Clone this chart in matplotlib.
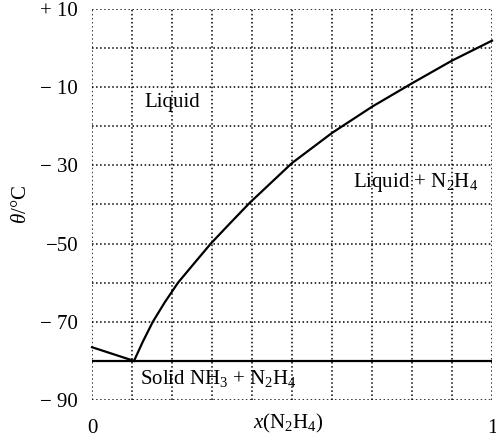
import matplotlib.pyplot as plt
from matplotlib.ticker import MultipleLocator

plt.rcParams['font.family'] = 'Liberation Serif'
plt.rcParams['mathtext.fontset'] = 'custom'
plt.rcParams['mathtext.rm'] = 'Liberation Serif'
plt.rcParams['mathtext.it'] = 'Liberation Serif:italic'

# NH3-rich liquidus (left branch)
x_nh3 = [0.0, 0.105]
t_nh3 = [-76.5, -80.0]

# N2H4 liquidus (right branch)
x_n2h4 = [0.105, 0.127, 0.152, 0.182, 0.215, 0.255, 0.297, 0.347, 0.395,
          0.5, 0.6, 0.7, 0.8, 0.9, 1.0]
t_n2h4 = [-80.0, -75.1, -70.0, -65.0, -60.0, -55.1, -50.0, -44.6, -39.5,
          -29.4, -21.7, -15.0, -9.0, -3.2, 1.9]

# eutectic line
t_eut = -80.0

yticks = [10, -10, -30, -50, -70, -90]
ytick_labels = ['+ 10', '\u2212 10', '\u2212 30', '\u221250', '\u2212 70', '\u2212 90']

fig = plt.figure(figsize=(4.96, 4.42), dpi=100)
ax = fig.add_axes([92 / 496, 1 - 400 / 442, 400 / 496, 391 / 442])

ax.plot(x_nh3, t_nh3, color='black', linewidth=1.6, clip_on=False)
ax.plot(x_n2h4, t_n2h4, color='black', linewidth=1.6, clip_on=False)
ax.axhline(t_eut, color='black', linewidth=1.6)

ax.set_xlim(0, 1)
ax.set_ylim(-90, 10)
ax.xaxis.set_minor_locator(MultipleLocator(0.1))
ax.yaxis.set_minor_locator(MultipleLocator(10))
ax.set_xticks([0, 1])
ax.set_xticklabels(['0', '1'])
ax.set_yticks(yticks)
ax.set_yticklabels(ytick_labels)
ax.tick_params(which='both', length=0, labelsize=15)
ax.tick_params(axis='x', pad=14)
ax.tick_params(axis='y', pad=10)
ax.grid(True, which='both', linestyle=':', color='black', linewidth=1.1)
for s in ax.spines.values():
    s.set_visible(False)

ax.set_xlabel(r'$x$(N$_2$H$_4$)', fontsize=15, va='center')
ax.xaxis.set_label_coords(0.49, -0.059)
ax.set_ylabel(r'$\theta$/°C', fontsize=15, va='center')
ax.yaxis.set_label_coords(-0.175, 0.5)

ax.text(0.2, -14, 'Liquid', fontsize=15, ha='center', va='center')
ax.text(0.81, -34.5, r'Liquid + N$_2$H$_4$', fontsize=15, ha='center', va='center')
ax.text(0.12, -84.4, r'Solid NH$_3$ + N$_2$H$_4$', fontsize=15, ha='left', va='center')

plt.savefig('out.png', dpi=100)
